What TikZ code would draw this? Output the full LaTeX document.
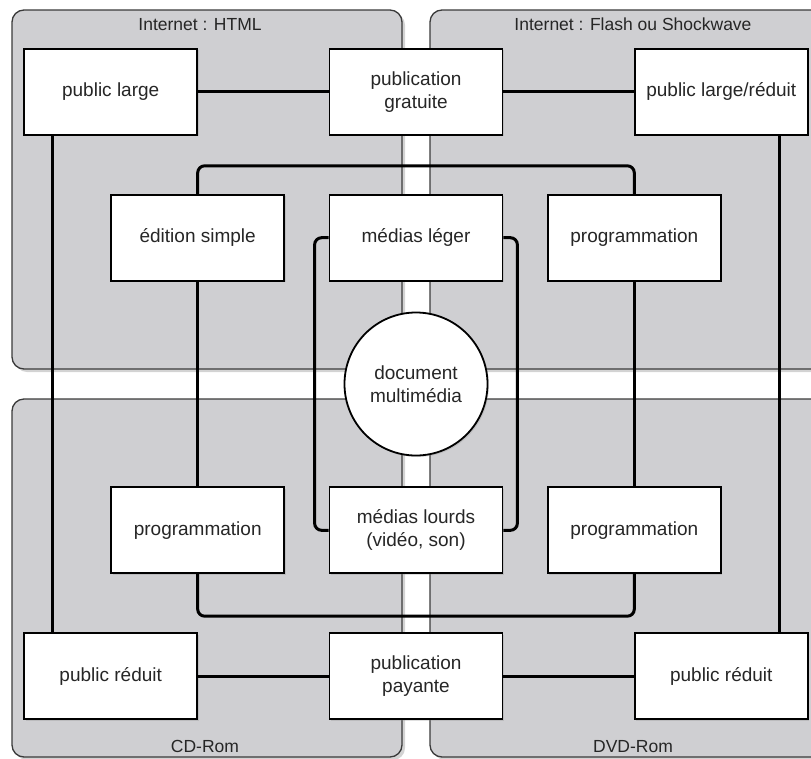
\documentclass[tikz,border=0pt]{standalone}
\usepackage{fontspec}
\setmainfont{Liberation Sans}
\usepackage{xcolor}
\definecolor{zonegray}{RGB}{207,207,210}
\definecolor{zoneline}{RGB}{58,58,58}
\usepackage{tikz}
\usetikzlibrary{positioning, calc, shadows}

\begin{document}
\begin{tikzpicture}[
    x=1pt, y=-1pt,
    font=\fontsize{19}{23}\selectfont,
    zone/.style={draw=zoneline, line width=1.3pt, fill=zonegray, rounded corners=12pt, drop shadow={opacity=0.35, shadow xshift=3pt, shadow yshift=-3pt}},
    zonelabel/.style={anchor=base, font=\fontsize{17.5}{21}\selectfont, text=black!85},
    boite/.style={draw, line width=1.8pt, fill=white, minimum width=173pt, minimum height=86pt, align=center, inner sep=2pt, text=black!85, drop shadow={opacity=0.25, shadow xshift=1.5pt, shadow yshift=-1.5pt}},
    rond/.style={draw, circle, line width=1.8pt, fill=white, minimum size=143pt, inner sep=0pt, align=center, text=black!85, drop shadow={opacity=0.25, shadow xshift=1.5pt, shadow yshift=-1.5pt}},
    lien/.style={line width=3pt, rounded corners=7pt}
  ]

  \clip (0,0) rectangle (811,758);

  % zones
  \path[zone] (12,10) rectangle (402,369);
  \path[zone] (430,10) rectangle (840,369);
  \path[zone] (12,399) rectangle (402,757);
  \path[zone] (430,399) rectangle (840,757);

  \node (t1) [zonelabel] at (200,30) {Internet : HTML};
  \node (t2) [zonelabel] at (633,30) {Internet : Flash ou Shockwave};
  \node (t3) [zonelabel] at (205,752) {CD-Rom};
  \node (t4) [zonelabel] at (633,752) {DVD-Rom};

  % colonne centrale
  \node (doc) [rond] at (416,384) {document\\multimédia};
  \node (mleg) [boite, above=30pt of doc] {médias léger};
  \node (mlou) [boite, below=30pt of doc] {médias lourds\\(vidéo, son)};
  \node (pgrat) [boite, above=58pt of mleg] {publication\\gratuite};
  \node (ppay) [boite, below=58pt of mlou] {publication\\payante};

  % colonnes laterales
  \node (edit) [boite, left=43.5pt of mleg] {édition simple};
  \node (prog1) [boite, right=43.5pt of mleg] {programmation};
  \node (prog2) [boite, left=43.5pt of mlou] {programmation};
  \node (prog3) [boite, right=43.5pt of mlou] {programmation};
  \node (plarge) [boite, left=130.5pt of pgrat] {public large};
  \node (plr) [boite, right=130.5pt of pgrat] {public large/réduit};
  \node (pred1) [boite, left=130.5pt of ppay] {public réduit};
  \node (pred2) [boite, right=130.5pt of ppay] {public réduit};

  % liens
  \draw[lien] (plarge) -- (pgrat);
  \draw[lien] (pgrat) -- (plr);
  \draw[lien] (pred1) -- (ppay);
  \draw[lien] (ppay) -- (pred2);
  \draw[lien] ([xshift=29pt]plarge.south west) -- ([xshift=29pt]pred1.north west);
  \draw[lien] ([xshift=-29pt]plr.south east) -- ([xshift=-29pt]pred2.north east);
  \draw[lien] (edit.north) -- ++(0,-28) -| (prog1.north);
  \draw[lien] (edit) -- (prog2);
  \draw[lien] (prog1) -- (prog3);
  \draw[lien] (prog2.south) -- ++(0,42) -| (prog3.south);
  \draw[lien] (mleg.west) -- ++(-14,0) |- (mlou.west);
  \draw[lien] (mleg.east) -- ++(14,0) |- (mlou.east);

\end{tikzpicture}
\end{document}
